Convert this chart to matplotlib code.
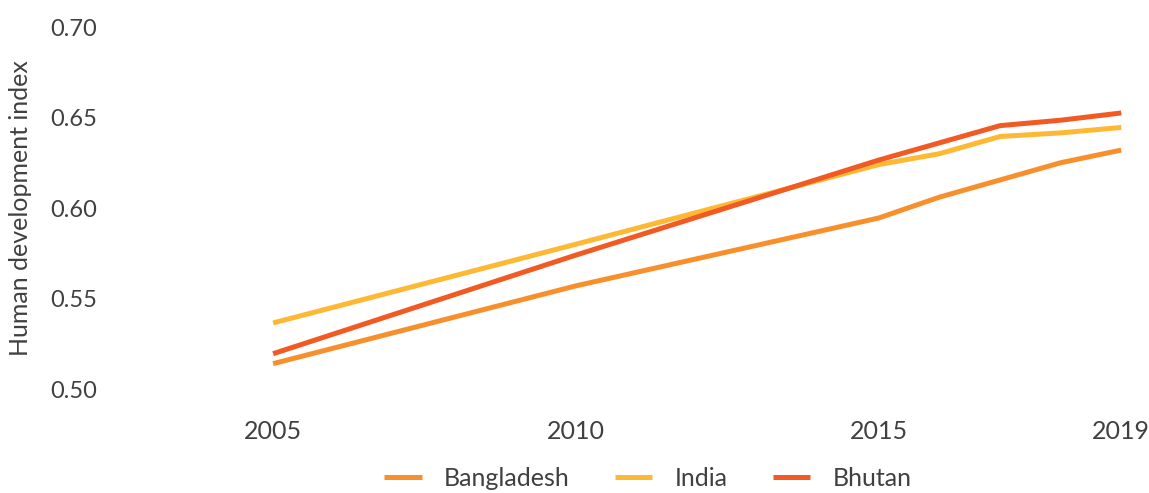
import matplotlib
matplotlib.use("Agg")
import matplotlib.pyplot as plt

plt.rcParams['font.family'] = ['Lato', 'DejaVu Sans']

years = [2005, 2010, 2015, 2016, 2017, 2018, 2019]
bangladesh = [0.514, 0.557, 0.5945, 0.606, 0.6155, 0.625, 0.632]
india = [0.5365, 0.580, 0.624, 0.630, 0.6395, 0.6415, 0.6445]
bhutan = [0.5195, 0.574, 0.6265, 0.636, 0.6455, 0.6485, 0.6525]

series = [
    ("Bangladesh", bangladesh, "#F7902C"),
    ("India", india, "#FDB934"),
    ("Bhutan", bhutan, "#F15A22"),
]

text_color = "#404040"

fig = plt.figure(figsize=(11.49, 4.93), dpi=100)
ax = fig.add_axes([115 / 1149, 104 / 493, 1025 / 1149, 362 / 493])

for name, vals, col in series:
    ax.plot(years, vals, color=col, lw=3.6, label=name, solid_capstyle='butt')

ax.set_xlim(2002.39, 2019.31)
ax.set_ylim(0.50, 0.70)
ax.set_xticks([2005, 2010, 2015, 2019])
ax.set_yticks([0.50, 0.55, 0.60, 0.65, 0.70])
ax.set_yticklabels(["0.50", "0.55", "0.60", "0.65", "0.70"])

for s in ax.spines.values():
    s.set_visible(False)
ax.tick_params(axis='both', length=0, colors=text_color)
ax.tick_params(axis='x', labelsize=18, pad=22)
ax.tick_params(axis='y', labelsize=17, pad=13)

ax.set_ylabel("Human development index", fontsize=18, color=text_color)
ax.yaxis.set_label_coords(-0.081, 0.5)

fig.legend(loc='center', bbox_to_anchor=(648 / 1149, 15 / 493), ncol=3,
           frameon=False, fontsize=18, labelcolor=text_color,
           handlelength=1.5, handletextpad=0.9, columnspacing=1.8,
           borderpad=0.1)

fig.savefig("out.png", dpi=100)
